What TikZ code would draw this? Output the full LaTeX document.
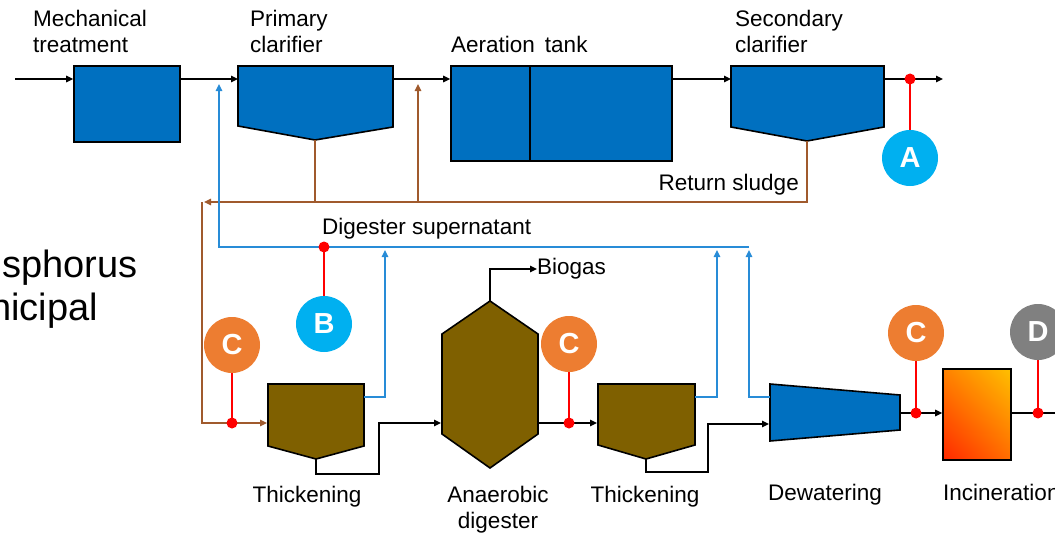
\documentclass[tikz,border=0pt]{standalone}
\usepackage{fontspec}
\setmainfont{Liberation Sans}
\usetikzlibrary{arrows.meta,shadings}
\definecolor{pblue}{RGB}{0,112,192}
\definecolor{sbrown}{RGB}{127,96,0}
\definecolor{brownl}{RGB}{160,90,45}
\definecolor{bluel}{RGB}{40,140,215}
\definecolor{bcyan}{RGB}{0,176,240}
\definecolor{borange}{RGB}{237,125,49}
\definecolor{bgray}{RGB}{128,128,128}
\definecolor{incLL}{RGB}{255,40,0}
\definecolor{incUR}{RGB}{255,192,0}
\definecolor{incUL}{RGB}{255,130,0}
\definecolor{incLR}{RGB}{255,110,0}
\begin{document}
\begin{tikzpicture}[x=1pt,y=-1pt,
  blk/.style={draw=black, line width=1.6pt, line join=miter},
  tank/.style={blk, fill=pblue},
  sl/.style={blk, fill=sbrown},
  tip/.style={-{Triangle[length=7pt,width=6.5pt]}},
  flow/.style={line width=1.3pt, tip},
  retl/.style={draw=brownl, line width=1.3pt},
  supl/.style={draw=bluel, line width=1.3pt},
  samp/.style={draw=red, line width=1.8pt},
  dot/.style={circle, fill=red, inner sep=0pt, minimum size=11pt},
  badge/.style={circle, inner sep=0pt, minimum size=56pt, text=white, font=\fontsize{29}{30}\selectfont\bfseries},
  lbl/.style={inner sep=0pt, font=\fontsize{22.5}{26}\selectfont},
  big/.style={inner sep=0pt, font=\fontsize{38}{43}\selectfont}
]
\useasboundingbox (0,0) rectangle (1055,535);

% ---------- top line units ----------
\node[tank, minimum width=106pt, minimum height=76pt, inner sep=0pt] (mech) at (127,104) {};
\draw[tank] (238,66) -- (393,66) -- (393,127) -- (315,140) -- (238,126) -- cycle;
\coordinate (pcin) at (238,79);
\coordinate (pcout) at (393,79);
\coordinate (pctip) at (315,140);
\node[tank, minimum width=221pt, minimum height=95pt, inner sep=0pt] (aer) at (561.5,113.5) {};
\draw[blk] (530,66) -- (530,161);
\draw[tank] (731,66) -- (884,66) -- (884,127) -- (807,141) -- (731,127) -- cycle;
\coordinate (scin) at (731,79);
\coordinate (scout) at (884,79);
\coordinate (sctip) at (807,141);

\coordinate (src) at (15,79);
\coordinate (eff) at (943,79);
\draw[flow] (src) -- (src -| mech.west);
\draw[flow] (mech.east |- src) -- (pcin);
\draw[flow] (pcout) -- (aer.west |- src);
\draw[flow] (aer.east |- src) -- (scin);
\draw[flow] (scout) -- (eff);

% labels top
\node[lbl, anchor=base west, align=left] at (33,53) {Mechanical\\treatment};
\node[lbl, anchor=base west, align=left] at (250,53) {Primary\\clarifier};
\node[lbl, anchor=base west] at (451,53) {Aeration\ \,tank};
\node[lbl, anchor=base west, align=left] at (735,53) {Secondary\\clarifier};

% sample A
\node[dot] (dA) at (910,79) {};
\node[badge, fill=bcyan] (A) at (910,158) {A};
\draw[samp] (dA.center) -- (A.north);

% ---------- return sludge ----------
\coordinate (rsc) at (807,202);
\coordinate (rsl) at (202,202);
\coordinate (rasup) at (418,202);
\coordinate (pcdn) at (315,202);
\draw[retl, tip] (sctip) -- (rsc) -- ([xshift=2pt]rsl);
\draw[retl] (pctip) -- (pcdn);
\draw[retl, tip] (rasup) -- (418,84);
\node[lbl, anchor=base east] at (799,190) {Return sludge};

% ---------- supernatant ----------
\coordinate (sup1) at (219,247);
\coordinate (sup2) at (749,247);
\draw[supl, tip] (sup2) -- (sup1) -- (219,84);
\node[lbl, anchor=base west] at (322,234) {Digester supernatant};
\node[dot] (dB) at (324,247) {};
\node[badge, fill=bcyan] (B) at (324,324) {B};
\draw[samp] (dB.center) -- (B.north);

% ---------- sludge line ----------
% thickener 1
\draw[sl] (268,384) -- (364,384) -- (364,446) -- (316,459) -- (268,446) -- cycle;
\coordinate (t1in) at (268,423);
\coordinate (t1sup) at (364,397);
\coordinate (t1tip) at (316,459);
\draw[retl, tip] (rsl) -- (202,423) -- ([xshift=-1pt]t1in);
\node[dot] (dC1) at (232,423) {};
\node[badge, fill=borange] (C1) at (232,345) {C};
\draw[samp] (dC1.center) -- (C1.south);
\draw[supl, tip] (t1sup) -- (385,397) -- (385,250);
\node[lbl, anchor=base] at (307,502) {Thickening};

% digester
\draw[sl] (490,301) -- (538,334) -- (538,434) -- (490,468) -- (442,434) -- (442,334) -- cycle;
\coordinate (dgtop) at (490,301);
\coordinate (dgin) at (442,423);
\coordinate (dgout) at (538,423);
\draw[flow] (t1tip) -- (316,474) -- (379,474) -- (379,423) -- ([xshift=-1pt]dgin);
\node[lbl, anchor=west] (bio) at (537,269) {Biogas};
\draw[flow] (dgtop) -- (490,269) -- (bio.west);
\node[lbl, anchor=base, align=center] at (498,528) {Anaerobic\\digester};

% thickener 2
\draw[sl] (598,384) -- (695,384) -- (695,445) -- (646,459) -- (598,445) -- cycle;
\coordinate (t2in) at (598,423);
\coordinate (t2sup) at (695,397);
\coordinate (t2tip) at (646,459);
\draw[flow] (dgout) -- ([xshift=-1pt]t2in);
\node[dot] (dC2) at (569,423) {};
\node[badge, fill=borange] (C2) at (569,344) {C};
\draw[samp] (dC2.center) -- (C2.south);
\draw[supl, tip] (t2sup) -- (717,397) -- (717,250);
\node[lbl, anchor=base] at (645,502) {Thickening};

% dewatering
\draw[tank] (770,384) -- (900,395) -- (900,430) -- (770,441) -- cycle;
\coordinate (dwin) at (770,424);
\coordinate (dwsup) at (770,397);
\coordinate (dwout) at (900,413);
\draw[flow] (t2tip) -- (646,472) -- (708,472) -- (708,424) -- ([xshift=-1pt]dwin);
\draw[supl, tip] (dwsup) -- (749,397) -- (749,250);
\node[lbl, anchor=base] at (825,500) {Dewatering};

% incineration
\shade[lower left=incLL, upper right=incUR, upper left=incUL, lower right=incLR]
  (943,369) rectangle (1011,460);
\node[blk, minimum width=68pt, minimum height=91pt, inner sep=0pt] (inc) at (977,414.5) {};
\draw[flow] (dwout) -- (inc.west |- dwout);
\node[dot] (dC3) at (916,413) {};
\node[badge, fill=borange] (C3) at (916,333) {C};
\draw[samp] (dC3.center) -- (C3.south);
\coordinate (ash) at (1062,413);
\draw[line width=1.3pt] (inc.east |- dwout) -- (ash);
\node[dot] (dD) at (1038,413) {};
\node[badge, fill=bgray] (D) at (1038,332) {D};
\draw[samp] (dD.center) -- (D.south);
\node[lbl, anchor=base west] at (943,500) {Incineration};

% left cut-off text
\node[big, anchor=base east] at (138,277) {sphorus};
\node[big, anchor=base east] at (98,320) {nicipal};
\end{tikzpicture}
\end{document}
